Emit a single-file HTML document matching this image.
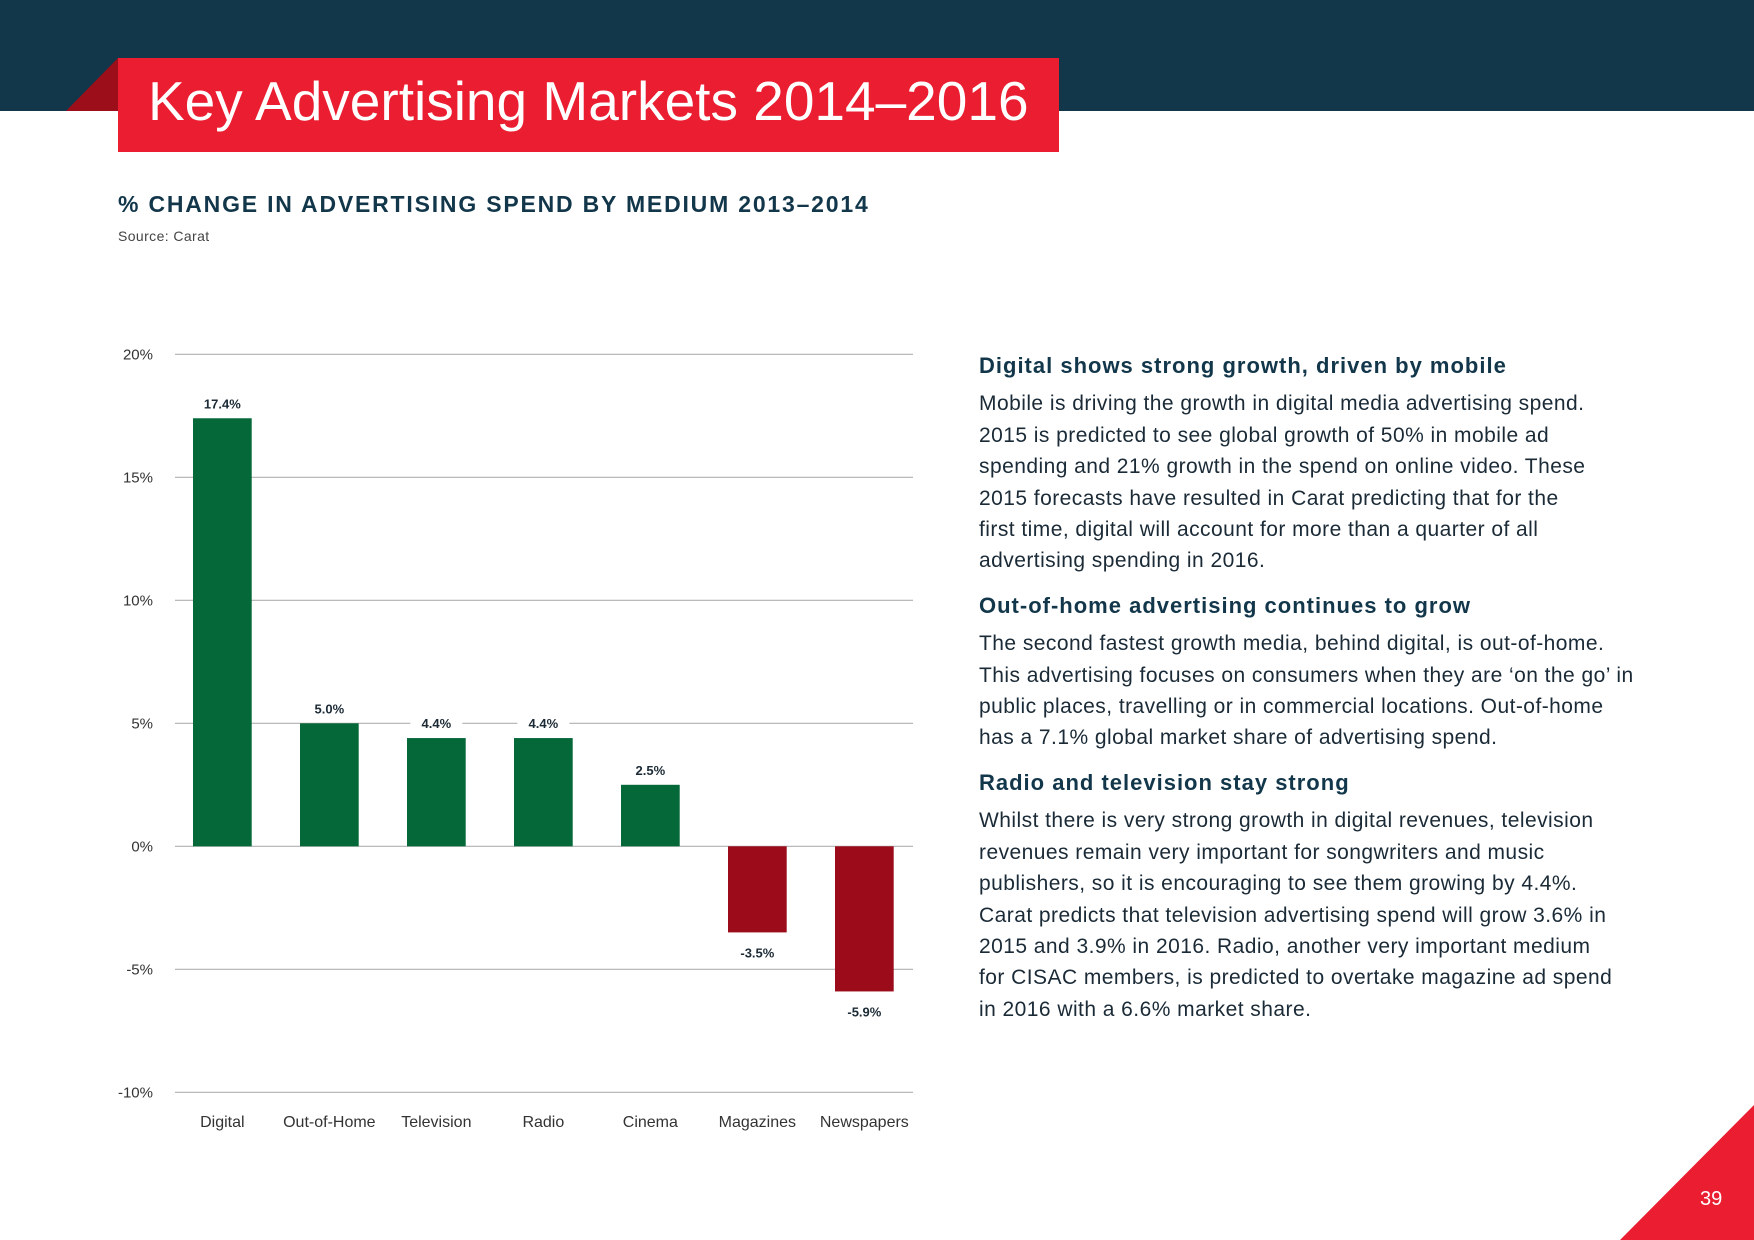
<!DOCTYPE html>
<html><head><meta charset="utf-8">
<style>
body{margin:0;width:1754px;height:1240px;position:relative;overflow:hidden;background:#fff;font-family:"Liberation Sans",sans-serif;color:#1c2b36}
.abs{position:absolute}
.rt{left:979px;width:760px;font-size:21px;letter-spacing:0.45px;line-height:31.4px;color:#1a2a36;white-space:nowrap}
.rt h3{margin:0 0 7px 0;font-size:22px;letter-spacing:1px;font-weight:bold;color:#12364a}
.rt p{margin:0 0 13px 0}
</style></head><body>
<div class="abs" style="left:0;top:0;width:1754px;height:111px;background:#12364a"></div>
<svg class="abs" style="left:0;top:0" width="1754" height="1240">
<polygon points="66,111 118,58 118,111" fill="#9b0e1a"/>
<polygon points="1754,1105 1754,1240 1620,1240" fill="#ea1d31"/>
</svg>
<div class="abs" style="left:118px;top:58px;width:941px;height:94px;background:#ea1d31"></div>
<div class="abs" style="left:148px;top:69px;font-size:55px;color:#fff;white-space:nowrap">Key Advertising Markets 2014–2016</div>
<div class="abs" style="left:118px;top:191px;font-size:23px;letter-spacing:1.8px;font-weight:bold;color:#12364a;white-space:nowrap">% CHANGE IN ADVERTISING SPEND BY MEDIUM 2013–2014</div>
<div class="abs" style="left:118px;top:228px;font-size:14px;letter-spacing:0.4px;color:#444">Source: Carat</div>
<div class="abs" style="left:1700px;top:1188px;font-size:20px;color:#fff">39</div>

<svg id="chart" class="abs" style="left:0;top:0" width="1754" height="1240"></svg>

<div class="abs rt" style="top:350px">
<h3>Digital shows strong growth, driven by mobile</h3>
<p>Mobile is driving the growth in digital media advertising spend.<br>2015 is predicted to see global growth of 50% in mobile ad<br>spending and 21% growth in the spend on online video. These<br>2015 forecasts have resulted in Carat predicting that for the<br>first time, digital will account for more than a quarter of all<br>advertising spending in 2016.</p>
<h3>Out-of-home advertising continues to grow</h3>
<p>The second fastest growth media, behind digital, is out-of-home.<br>This advertising focuses on consumers when they are ‘on the go’ in<br>public places, travelling or in commercial locations. Out-of-home<br>has a 7.1% global market share of advertising spend.</p>
<h3>Radio and television stay strong</h3>
<p>Whilst there is very strong growth in digital revenues, television<br>revenues remain very important for songwriters and music<br>publishers, so it is encouraging to see them growing by 4.4%.<br>Carat predicts that television advertising spend will grow 3.6% in<br>2015 and 3.9% in 2016. Radio, another very important medium<br>for CISAC members, is predicted to overtake magazine ad spend<br>in 2016 with a 6.6% market share.</p>
</div>

<script>
const categories=["Digital","Out-of-Home","Television","Radio","Cinema","Magazines","Newspapers"];
const values=[17.4,5.0,4.4,4.4,2.5,-3.5,-5.9];
const valueLabels=["17.4%","5.0%","4.4%","4.4%","2.5%","-3.5%","-5.9%"];
const ticks=[20,15,10,5,0,-5,-10];
const tickLabels=["20%","15%","10%","5%","0%","-5%","-10%"];
const NS="http://www.w3.org/2000/svg";
const svg=document.getElementById('chart');
const y=v=>846.3-(v)*24.6;
const x=i=>193+i*107;
const bw=58.7;
function mk(t,a){const e=document.createElementNS(NS,t);for(const k in a)e.setAttribute(k,a[k]);svg.appendChild(e);return e;}
ticks.forEach((t,i)=>{
  const l=mk('line',{x1:175,x2:913,y1:y(t),y2:y(t),stroke:'#b0b0b0','stroke-width':1.2});
  
  
  const tx=mk('text',{x:153,y:y(t)+5,'text-anchor':'end','font-size':15,fill:'#333','font-family':'Liberation Sans'});
  tx.textContent=tickLabels[i];
  
  
});
values.forEach((v,i)=>{
  const top=Math.min(y(v),y(0)),h=Math.abs(y(v)-y(0));
  const cx=x(i)+bw/2;
  if(v>0){mk('rect',{x:cx-26,y:y(v)-24,width:52,height:20,fill:'#fff'});}
  const r=mk('rect',{x:x(i),y:top,width:bw,height:h,fill:v>=0?'#046838':'#9b0b19'});
  
  
  const ly=v>=0?y(v)-10:y(v)+25;
  const t=mk('text',{x:cx,y:ly,'text-anchor':'middle','font-size':13,'font-weight':'bold',fill:'#1c2b36','font-family':'Liberation Sans'});
  t.textContent=valueLabels[i];
  
  
  const c=mk('text',{x:cx,y:1127,'text-anchor':'middle','font-size':16,fill:'#333','font-family':'Liberation Sans'});
  c.textContent=categories[i];
  
  
});
</script>
</body></html>
